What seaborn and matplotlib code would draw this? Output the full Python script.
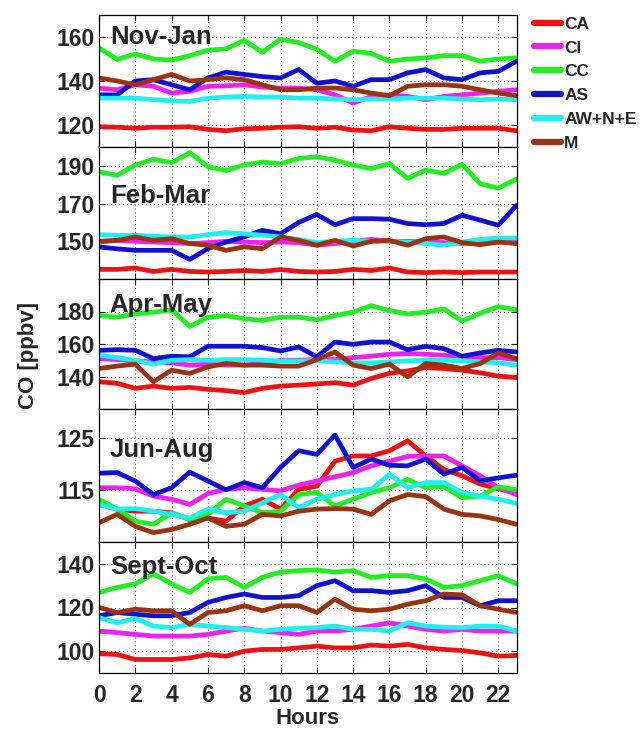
import numpy as np
import pandas as pd
import matplotlib
matplotlib.use("Agg")
import matplotlib.pyplot as plt
import seaborn as sns

hours = list(range(24))
series_names = ["CA", "CI", "CC", "AS", "AW+N+E", "M"]
seasons = ["Nov-Jan", "Feb-Mar", "Apr-May", "Jun-Aug", "Sept-Oct"]

# Nov-Jan
CA1 = [119.2,119,118.5,119,119,119.2,118,117.4,118.3,118.5,119,119.2,118.5,119,117.7,117.4,119.2,118.5,118,118,118.5,118.5,118.5,117.4]
CI1 = [136.8,136,138.3,137.6,134.5,135.3,137.6,137.8,138.3,137.2,136.8,136.8,136,133.7,130,133,133.7,133,131.5,133,133.7,134.5,135.3,136]
CC1 = [155,149.8,152.3,150,149.5,151.5,154,154.6,158.5,153,159,157.5,154.4,149,153.6,152.5,149,150,150.5,151.5,151.5,149,150,150.5]
AS1 = [133.7,133.7,140,140.6,138.3,136,141.4,144,143,142,141.4,145.2,139,140,137.6,140.6,140.6,143.7,145.2,141.4,140.6,143.7,144.4,149]
AW1 = [132.2,132.2,132.2,131.5,131,130.7,132.2,132.7,133,132.7,132.7,132.2,132.2,131.8,131.5,131.8,131.8,132.2,132.2,132.2,131.8,131.5,131.8,131.5]
M1 = [141.4,140,138.3,140.6,143,140,140.6,141.4,140.6,138.3,136,136,136.8,136.8,136,134.5,133.3,137.6,138.3,138.3,137.6,136,134.5,133.3]

# Feb-Mar
CA2 = [135.1,135.1,135.8,134,135.1,134,133.7,134,134.5,134,135,134,133.7,134,135.1,134.5,135.8,133.7,133.4,133.7,133.4,133.7,133.7,133.7]
CI2 = [149.6,150.5,150,149.6,149.3,148.8,149.3,150,149.6,149.3,149.6,149.3,147.9,148.8,150,151,150,150,149.6,149.3,148.8,149.3,149.6,150]
CC2 = [186.8,185,190.4,193.5,191.7,197,189.6,187.5,190.5,192,191.2,193.9,194.8,193,190.4,188.6,191.2,183.3,187.8,186,190.8,180.5,178.2,183]
AS2 = [147,146,145.2,145.2,145.2,140.4,146.1,149.6,152.3,155.8,154,160,164.2,158.8,162,162,161.7,159.4,158.8,159.4,163.8,161.2,158.5,169]
AW2 = [153.5,153.2,153.2,152.7,152.3,152.3,153.5,154.6,154,153.2,152.3,151,149.3,150,150.5,150,150,149.6,148.8,147.9,149.6,151,151.7,151.7]
M2 = [150,150.5,152.3,150.5,151.4,148.8,147.9,145.2,147,146.1,152.3,150.5,147.9,150.5,147.5,150,150.5,147.9,151.4,152.3,149.3,148.2,149.6,148.8]

# Apr-May
CA3 = [136.8,135.8,132.7,134.1,132.7,133.3,132.1,131.3,130.1,132.7,134.1,134.7,135.4,136.2,134.7,138.8,141.9,143.5,145.5,144.9,143.9,142.3,140.2,139.4]
CI3 = [151,150.4,149.6,149,148.4,147,147.6,147,147,148,150,150,150.4,150.4,151.6,152.5,153.7,154.1,153.7,153.1,152.5,151.6,151.6,150.4]
CC3 = [177.5,176.5,178.5,179.6,181,170.8,176.5,177.5,175.5,174.5,176.5,176.5,174.9,177.5,179.6,183.6,180.6,178.5,179.6,181.6,174.1,178.9,183,181]
AS3 = [156.1,156.5,156.1,151,152.5,152.1,158.6,158.6,158.6,157.8,155.7,158.2,152.1,161.2,159.8,161.2,161.2,156.5,158.6,157.1,152.5,154.5,156.1,155.1]
AW3 = [153.1,151.6,150,147.6,150,150.4,150,150.4,150.4,150,149.6,149.6,149.6,149,148.4,148.4,149,149.6,150,150,149.6,149,148.4,147]
M3 = [144.9,146.4,147.6,136.8,143.9,141.9,145.9,148,147,147,146.4,146.4,150.4,155.1,147,144.9,147.6,139.8,148,147,144.9,148,154.5,151]

# Jun-Aug
CA4 = [112.2,111.3,110.9,110.9,110.6,109.3,109.6,109,111.9,113.2,111.3,115.1,115.7,120.5,121.5,121.5,122.5,124.4,121.5,118.9,117.7,116.1,115.2,114.5]
CI4 = [115.4,115.4,115.2,113.8,113.2,112.2,114.3,115.1,115.4,115.1,114.8,115.9,116.7,117.5,118.3,119.6,120.5,121.4,121.5,121.5,119.6,117.7,115.4,114.1]
CC4 = [113.2,111.3,109,108.4,110.6,109.3,110.3,113.2,111.9,110.6,110.9,114.1,114.5,111.9,113.2,114.5,115.4,117,115.4,115.6,113.5,113.8,115.6,115]
AS4 = [118.2,118.3,116.7,114.1,115.4,118.4,116.7,115,116.4,115.4,119.3,122.5,121.8,125.5,119.3,120.9,119.7,119.6,120.9,118,119.3,116.7,117.3,117.8]
AW4 = [112.2,111.3,111.4,110.9,110.3,109.6,111.3,110.6,110.9,112.5,114.1,111.6,113.2,114.1,114.8,115.1,118,115.4,116.4,116.4,114.5,113.8,113.2,112.4]
M4 = [108.7,110.3,108,106.8,107.4,108.4,109.6,108,108.4,110.3,110,110.9,111.3,111.4,111.3,110.3,112.9,114.1,113.7,111.3,110.3,110,109.3,108.4]

# Sept-Oct
CA5 = [98.8,98.5,96.2,96.2,96.2,96.9,98.5,97.7,100,100.8,100.8,101.5,102.3,101.5,101.5,102.8,102.3,103.1,101.5,100.8,100.3,99.2,97.7,98.1]
CI5 = [109.2,108.5,107.7,106.9,106.9,106.9,107.7,109.2,110.5,109.2,108.5,107.7,109.2,109.2,110,111.5,113,111.5,110,109.2,110,109.2,109.2,109.2]
CC5 = [126.9,129.2,130.8,135.4,130.8,126.9,133.1,133.8,129.2,133.8,136.2,136.9,137.2,136.2,136.9,133.8,134.6,134.6,133.1,129.2,130,132.3,134.6,130.8]
AS5 = [116.2,117.7,116.9,116.2,116.2,117.7,122.3,124.6,126.2,124.6,124.6,125.4,130,132.3,127.7,127.7,126.9,127.7,130,124.6,124.6,120.8,123.1,123.1]
AW5 = [115.4,113,115,111.5,110.8,112.3,111.5,110.8,110,109.2,110,110.5,110.8,111.5,110,110,109.2,113,111.5,111,110.8,111.5,111.5,109.2]
M5 = [120,117.7,119.2,118.5,118.5,112.3,117.7,118.5,120.8,118.5,120.8,120.8,117.7,123.8,119.2,118.5,119.2,121.5,123.1,126.2,125.8,120.8,119.2,117.7]

panels = [
    [CA1, CI1, CC1, AS1, AW1, M1],
    [CA2, CI2, CC2, AS2, AW2, M2],
    [CA3, CI3, CC3, AS3, AW3, M3],
    [CA4, CI4, CC4, AS4, AW4, M4],
    [CA5, CI5, CC5, AS5, AW5, M5],
]
yticks = [[120, 140, 160], [150, 170, 190], [140, 160, 180], [115, 125], [100, 120, 140]]
ylims = [(110, 170), (130, 200), (120, 200), (105, 130.5), (90, 150)]
xticks = list(range(0, 23, 2))

palette = {"CA": "#EE1111", "CI": "#EE22EE", "CC": "#22EE22",
           "AS": "#1010D0", "AW+N+E": "#22EEEE", "M": "#993311"}

sns.set_style("ticks")
plt.rcParams["font.family"] = ["Liberation Sans", "DejaVu Sans"]
plt.rcParams["font.weight"] = "bold"

fig = plt.figure(figsize=(6.41, 7.32), dpi=100)
W, H = 641.0, 732.0
left_px, right_px = 99.0, 516.5
bounds = [(15, 147), (147, 279), (279, 409), (409, 542), (542, 673)]
label_y = [0.835, 0.63, 0.80, 0.69, 0.81]

axes = []
for i, (t, b) in enumerate(bounds):
    ax = fig.add_axes([left_px / W, 1 - b / H, (right_px - left_px) / W, (b - t) / H])
    axes.append(ax)
    vals = panels[i]
    df = pd.DataFrame({
        "Hours": hours * len(series_names),
        "CO": [v for s in vals for v in s],
        "Source": [n for n in series_names for _ in hours],
    })
    sns.lineplot(data=df, x="Hours", y="CO", hue="Source", hue_order=series_names,
                 palette=palette, linewidth=3.4, ax=ax, legend=(i == 0))
    ax.set_xlim(0, 23)
    ax.set_ylim(*ylims[i])
    ax.set_xticks(xticks)
    ax.set_yticks(yticks[i])
    ax.grid(True, linestyle=(0, (1, 3)), color="#555555", linewidth=0.7)
    ax.set_axisbelow(True)
    ax.tick_params(direction="in", top=True, right=True, length=4, width=0.8,
                   labelsize=16.5, pad=3)
    for sp in ax.spines.values():
        sp.set_linewidth(0.9)
        sp.set_color("black")
    ax.set_ylabel("")
    ax.set_xlabel("")
    for lab in ax.get_yticklabels():
        lab.set_fontweight("bold")
    if i < 4:
        ax.tick_params(labelbottom=False)
    else:
        ax.tick_params(axis="x", pad=8)
        for lab in ax.get_xticklabels():
            lab.set_fontweight("bold")
        ax.set_xlabel("Hours", fontsize=16, fontweight="bold", labelpad=1)
    ax.text(0.026, label_y[i], seasons[i], transform=ax.transAxes,
            fontsize=18.5, fontweight="bold", ha="left", va="center")

handles, labels = axes[0].get_legend_handles_labels()
axes[0].get_legend().remove()
for h in handles:
    h.set_linewidth(4.5)
fig.legend(handles, labels, loc="upper left", bbox_to_anchor=(0.814, 0.994),
           frameon=False, prop={"size": 12.5, "weight": "bold"},
           handlelength=1.55, handletextpad=0.2, labelspacing=0.5, borderpad=0.2)

fig.text(0.044, 0.515, "CO [ppbv]", rotation=90, fontsize=16, fontweight="bold",
         ha="center", va="center")

fig.savefig("out.png", dpi=100)
